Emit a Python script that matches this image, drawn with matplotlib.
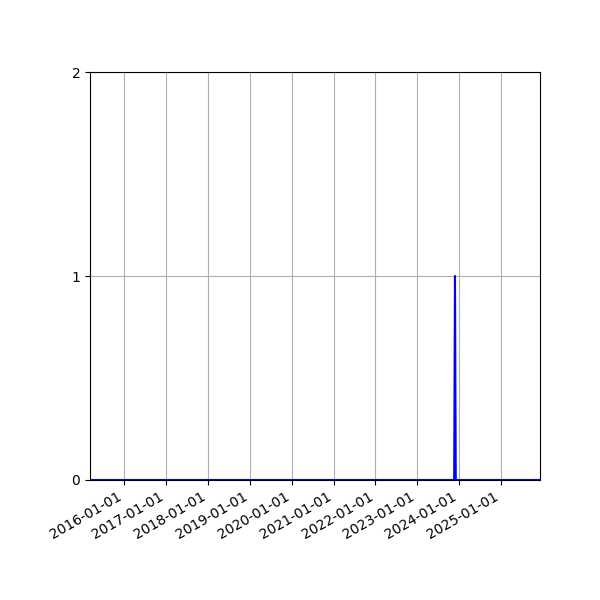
import pandas as pd
import matplotlib
matplotlib.use("Agg")
import matplotlib.pyplot as plt
import matplotlib.dates as mdates

# weekly counts, flat at zero except one week in late 2023
dates = ["2015-03-08", "2023-11-19", "2023-11-26", "2023-12-03", "2025-12-07"]
counts = [0, 0, 1, 0, 0]

df = pd.DataFrame({"date": pd.to_datetime(dates), "count": counts})

fig, ax = plt.subplots(figsize=(6, 6), dpi=100)
ax.plot(df["date"], df["count"], color="blue", linewidth=1.5)

ax.set_xlim(df["date"].min(), df["date"].max())
ax.set_ylim(0, 2)
ax.set_yticks([0, 1, 2])
ax.xaxis.set_major_locator(mdates.YearLocator())
ax.xaxis.set_major_formatter(mdates.DateFormatter("%Y-%m-%d"))
ax.grid(True)

fig.autofmt_xdate()
fig.subplots_adjust(left=0.15, right=0.9, top=0.88, bottom=0.2)
fig.savefig("out.png")
